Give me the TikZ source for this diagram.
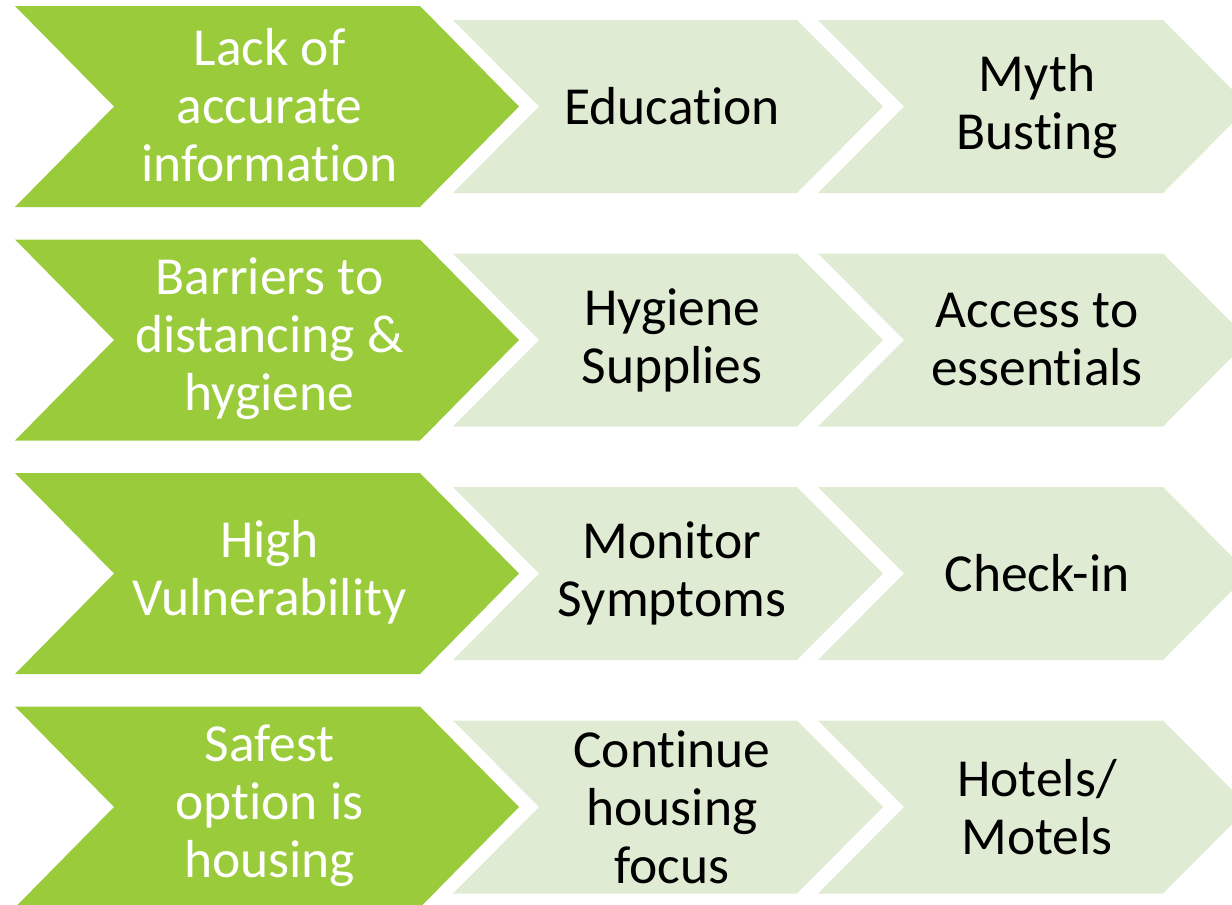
\documentclass[tikz,border=0pt]{standalone}
\usepackage{fontspec}
\setmainfont{Carlito}[Ligatures={NoCommon,NoContextual,NoRare}, Contextuals=NoAlternate]

\definecolor{darkleaf}{RGB}{154,203,58}
\definecolor{paleleaf}{RGB}{224,235,211}

\tikzset{
  keyshape/.style={fill=darkleaf},
  stepshape/.style={fill=paleleaf},
  keytext/.style={text=white, align=center, inner sep=0pt, font=\fontsize{53.5}{58}\selectfont},
  steptext/.style={text=black, align=center, inner sep=0pt, font=\fontsize{53.5}{58}\selectfont},
}

% One chevron: left edge, right edge, half height, point depth, centre line
\newcommand\chevronshape[6]{%
  \fill[#1] (#2,#6-#4) -- (#3,#6-#4) -- (#3+#5,#6) -- (#3,#6+#4)
    -- (#2,#6+#4) -- (#2+#5,#6) -- cycle;}

% One row: index, centre line, issue, first response, second response
\newcommand\chevronrow[5]{%
  \chevronshape{keyshape}{15}{420}{100.5}{99}{#2}
  \chevronshape{stepshape}{453}{797}{86.5}{86}{#2}
  \chevronshape{stepshape}{818}{1163}{86.5}{86}{#2}
  \node[keytext]  (issue#1) at (269.5,#2-1) {#3};
  \node[steptext] (first#1) at (672,#2)   {#4};
  \node[steptext] (second#1) at (1037,#2) {#5};
}

\begin{document}
\begin{tikzpicture}[x=1pt, y=-1pt]
  \useasboundingbox (0,0) rectangle (1232,905);
  \chevronrow{1}{106.5}{Lack of\\accurate\\information}{Education}{Myth\\Busting}
  \chevronrow{2}{340}{Barriers to\\distancing \&\\hygiene}{Hygiene\\Supplies}{Access to\\essentials}
  \chevronrow{3}{573.5}{High\\Vulnerability}{Monitor\\Symptoms}{Check-in}
  \chevronrow{4}{807}{Safest\\option is\\housing}{Continue\\housing\\focus}{Hotels/\\Motels}
\end{tikzpicture}
\end{document}
